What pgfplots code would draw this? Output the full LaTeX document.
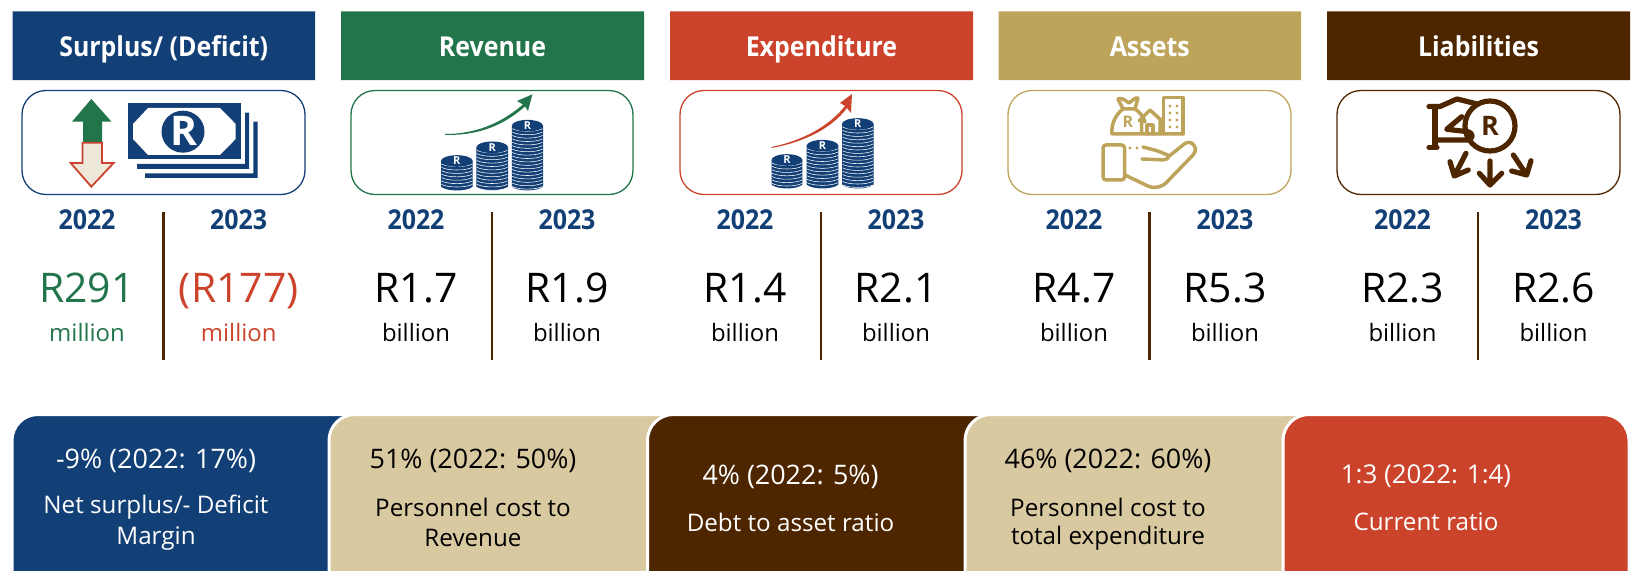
\documentclass[border=0pt]{standalone}
\usepackage{fontspec}
\setmainfont{Open Sans}
\newfontfamily\hdr[FakeStretch=0.91]{Open Sans}
\usepackage{pgfplots}
\pgfplotsset{compat=1.18}
\usetikzlibrary{arrows.meta}
\definecolor{cblue}{HTML}{123F75}
\definecolor{cgreen}{HTML}{22744A}
\definecolor{cred}{HTML}{CB432B}
\definecolor{cgold}{HTML}{BDA45A}
\definecolor{cbrown}{HTML}{4D2600}
\definecolor{ctan}{HTML}{D9C9A0}
\definecolor{ccream}{HTML}{EDE8DA}
\newcommand\fs[1]{\fontsize{#1}{#1}\selectfont}
\newcommand\header[4]{%
  \addplot[fill=#3,draw=none,forget plot] coordinates {(#1,11.5)(#2,11.5)(#2,80)(#1,80)(#1,11.5)};
  \node[text=white,anchor=base] at (axis cs:{(#1+#2)/2},56) {\hdr\fs{27.5}\bfseries #4};
}
\newcommand\block[8]{%
  \addplot[color=cbrown,line width=2.4bp,forget plot] coordinates {(#3,212)(#3,360)};
  \node[text=cblue,anchor=base] at (axis cs:#1,229.3) {\hdr\fs{27.5}\bfseries 2022};
  \node[text=cblue,anchor=base] at (axis cs:#2,229.3) {\hdr\fs{27.5}\bfseries 2023};
  \node[text=#7,anchor=base] at (axis cs:#1,302.3) {\fs{41}#4};
  \node[text=#8,anchor=base] at (axis cs:#2,302.3) {\fs{41}#5};
  \node[text=#7,anchor=base] at (axis cs:#1,341.7) {\fs{24}#6};
  \node[text=#8,anchor=base] at (axis cs:#2,341.7) {\fs{24}#6};
}
\newcommand\panel[3]{%
  \draw[fill=#3,draw=white,line width=3bp,rounded corners=26bp]
    (axis cs:#1,640) -- (axis cs:#1,414.5) -- (axis cs:#2,414.5) -- (axis cs:#2,640) -- cycle;
}
\newcommand\coins[4]{% x0 x1 ytop ybot
  \pgfmathsetmacro\cx{(#1+#2)/2}
  \fill[cblue] (#1,#3+5) -- (#1,#4-4) .. controls (#1+6,#4+1) and (#2-6,#4+1) .. (#2,#4-4) -- (#2,#3+5) -- cycle;
  \pgfmathsetmacro\ystart{#3+11}
  \pgfmathsetmacro\ynext{#3+14.4}
  \foreach \yy in {\ystart,\ynext,...,#4} {
    \draw[white,line width=.55bp] (#1+.5,\yy-3) .. controls (#1+7,\yy+.5) and (#2-7,\yy+.5) .. (#2-.5,\yy-3);
  }
  \fill[cblue] (\cx,#3+5) ellipse [x radius={(#2-#1)/2},y radius=5.8];
  \node[text=white,inner sep=0pt] at (\cx,#3+5) {\fs{11}\bfseries R};
}
\begin{document}
\begin{tikzpicture}
\useasboundingbox (0,0) rectangle (1631bp,571bp);
\clip (0,0) rectangle (1631bp,571bp);
\begin{axis}[
  at={(0,0)},anchor=south west,
  scale only axis,width=1631bp,height=571bp,
  xmin=0,xmax=1631,ymin=0,ymax=571,y dir=reverse,
  hide axis,clip=false]
\header{12.5}{315}{cblue}{Surplus/ (Deficit)}
\header{341}{644}{cgreen}{Revenue}
\header{670}{973}{cred}{Expenditure}
\header{998.5}{1301}{cgold}{Assets}
\header{1327}{1630}{cbrown}{Liabilities}
% icon frames
\draw[cblue,line width=1.3bp,rounded corners=24bp] (axis cs:22,90.5) rectangle (axis cs:305,194.5);
\draw[cgreen,line width=1.3bp,rounded corners=24bp] (axis cs:351,90.5) rectangle (axis cs:633,194.5);
\draw[cred,line width=1.3bp,rounded corners=24bp] (axis cs:680,90.5) rectangle (axis cs:962,194.5);
\draw[cgold,line width=1.3bp,rounded corners=24bp] (axis cs:1008,90.5) rectangle (axis cs:1291,194.5);
\draw[cbrown,line width=1.3bp,rounded corners=24bp] (axis cs:1337,90.5) rectangle (axis cs:1620,194.5);
% figures
\block{87}{238.7}{163.4}{R291}{(R177)}{million}{cgreen}{cred}
\block{416}{567}{492}{R1.7}{R1.9}{billion}{black}{black}
\block{745}{896}{821}{R1.4}{R2.1}{billion}{black}{black}
\block{1074}{1225}{1149.5}{R4.7}{R5.3}{billion}{black}{black}
\block{1402.5}{1553.5}{1478}{R2.3}{R2.6}{billion}{black}{black}
% panels
\panel{12}{380}{cblue}
\panel{329}{700}{ctan}
\panel{647.5}{1010}{cbrown}
\panel{965}{1330}{ctan}
\draw[fill=cred,draw=white,line width=3bp,rounded corners=26bp]
    (axis cs:1283,640) -- (axis cs:1283,414.5) -- (axis cs:1629,414.5) -- (axis cs:1629,640) -- cycle;
% panel text
\node[text=white] at (axis cs:156,461) {\fs{27}-9\% (2022: 17\%)};
\node[text=white] at (axis cs:156,507.5) {\fs{24.3}Net surplus/- Deficit};
\node[text=white] at (axis cs:156,539) {\fs{24.3}Margin};
\node[text=black] at (axis cs:473,461) {\fs{27}51\% (2022: 50\%)};
\node[text=black] at (axis cs:473,507.5) {\fs{24.3}Personnel cost to};
\node[text=black] at (axis cs:473,538) {\fs{24.3}Revenue};
\node[text=white] at (axis cs:790.5,476.5) {\fs{27}4\% (2022: 5\%)};
\node[text=white] at (axis cs:790.5,522) {\fs{24.3}Debt to asset ratio};
\node[text=black] at (axis cs:1108,461) {\fs{27}46\% (2022: 60\%)};
\node[text=black] at (axis cs:1108,507.5) {\fs{24.3}Personnel cost to};
\node[text=black] at (axis cs:1108,538.5) {\fs{24.3}total expenditure};
\node[text=white] at (axis cs:1426,476.5) {\fs{26}1:3 (2022: 1:4)};
\node[text=white] at (axis cs:1426,522) {\fs{24.3}Current ratio};
\end{axis}
% icons, in reference pixel coordinates
\begin{scope}[x=1bp,y=-1bp,yshift=571bp]
% surplus arrows
\fill[cgreen] (91.3,99) -- (111.5,121.7) -- (102,121.7) -- (102,143) -- (83,143) -- (83,121.7) -- (72,121.7) -- cycle;
\draw[cred,fill=ccream,line width=1.8bp] (82.5,142.7) -- (102,142.7) -- (102,163) -- (113.6,163) -- (91.3,186.7) -- (70.7,163) -- (82.5,163) -- cycle;
% banknotes
\fill[cblue] (128,103) rectangle (240.7,159);
\fill[white] (148,108) -- (220,108) -- (235.7,124) -- (235.7,139) -- (220,155) -- (148,155) -- (133,139) -- (133,124) -- cycle;
\fill[cblue] (183,131.7) ellipse [x radius=21.5,y radius=21];
\node[text=white,inner sep=0pt] at (183.5,130.5) {\fs{41}\bfseries R};
\fill[cblue] (245,112.7) -- (249,112.7) -- (249,169) -- (137,169) -- (137,164) -- (245,164) -- cycle;
\fill[cblue] (253.4,121.7) -- (257.6,121.7) -- (257.6,178) -- (145,178) -- (145,173.3) -- (253.4,173.3) -- cycle;
% revenue coins
\coins{441}{472.7}{156}{190.7}
\coins{476.4}{508}{142.3}{190.7}
\coins{511.8}{543}{120.7}{190.7}
\fill[cgreen] (445,134) .. controls (480,134) and (505,120) .. (523,104.5) -- (517,101) -- (532.4,94.3) -- (528,111) -- (525,106.5) .. controls (505,124) and (480,136) .. (445,134.8) -- cycle;
% expenditure coins
\coins{771.5}{802.4}{155}{188.7}
\coins{806.7}{838.3}{140.7}{188.7}
\coins{842}{873.6}{119}{188.7}
\fill[cred] (771.5,147) .. controls (805,140) and (830,125) .. (845,106) -- (840,103) -- (852,94) -- (851,113) -- (847,108) .. controls (832,128) and (805,142) .. (771.5,148) -- cycle;
% assets
\begin{scope}[line width=3.5bp,line join=round,line cap=round]
\draw[cgold] (1118,99) .. controls (1122,97) and (1126,101) .. (1129,103) .. controls (1132,101) and (1135,97) .. (1138,98) -- (1135,109) .. controls (1140,112) and (1144,118) .. (1145,122)
   (1123,109) .. controls (1115,115) and (1111,125) .. (1112,134) -- (1183,134) (1123,109) -- (1135,109) (1123,109) -- (1118,99);
\node[text=cgold,inner sep=0pt] at (1128,122) {\fs{16}\bfseries R};
\draw[cgold] (1139,121) -- (1150,110) -- (1162,121) (1141.5,120) -- (1141.5,134) (1160,120) -- (1160,134);
\draw[cgold] (1147,134) -- (1147,125) -- (1153,125) -- (1153,134);
\draw[cgold] (1163.5,134) -- (1163.5,97.5) -- (1183,97.5) -- (1183,134);
\foreach \yy in {106,113,120,127} { \fill[cgold] (1170,\yy) circle (1.6) (1177,\yy) circle (1.6); }
\draw[cgold,rounded corners=3bp] (1103,145) rectangle (1124.5,180);
\draw[cgold,rounded corners=4bp] (1125,175) -- (1152,188) -- (1163,186) -- (1196,152) -- (1195,145) -- (1188,141) -- (1168,157);
\draw[cgold,rounded corners=3bp] (1142,159) -- (1166,160) -- (1170,156) -- (1158,151) -- (1143,147);
\fill[cgold] (1130,148) circle (1.6) (1137,148) circle (1.6);
\end{scope}
% liabilities
\begin{scope}[line width=5.2bp,line join=round,line cap=round]
\draw[cbrown] (1429,106.5) -- (1440,106.5) -- (1457,99) -- (1477,104);
\draw[cbrown] (1435,106.5) -- (1435,147) (1429,147.3) -- (1437,147.3);
\draw[cbrown] (1461.7,116.7) -- (1446.7,129.3) -- (1468,131.7) .. controls (1473,133) and (1474,138) .. (1468,140) -- (1437,140);
\draw[cbrown] (1490,126) ellipse [x radius=25,y radius=25];
\node[text=cbrown,inner sep=0pt] at (1490,125.5) {\fs{27}\bfseries R};
\draw[cbrown] (1490,161) -- (1490,185) (1479.3,173.3) -- (1490,185) -- (1501.7,173.3);
\draw[cbrown] (1466,153.3) -- (1454.3,176) (1450,161.7) -- (1454.3,176) -- (1468.3,170);
\draw[cbrown] (1513.3,155) -- (1526.7,175) (1511.7,171) -- (1526.7,175) -- (1531,160.7);
\end{scope}
\end{scope}
\end{tikzpicture}
\end{document}
